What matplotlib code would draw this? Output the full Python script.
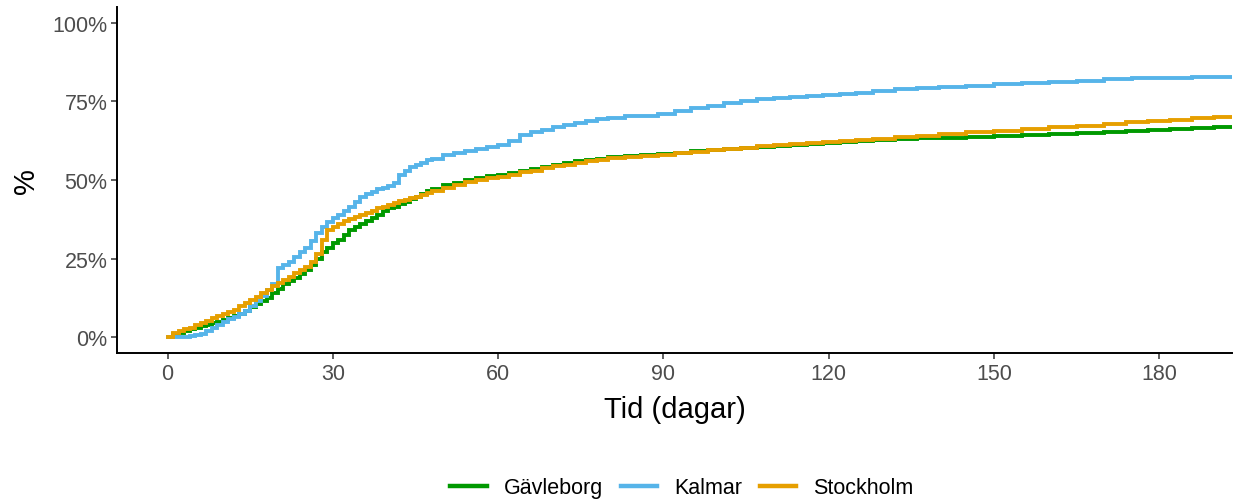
import matplotlib
matplotlib.use("Agg")
import matplotlib.pyplot as plt
from matplotlib.ticker import FuncFormatter

plt.rcParams['font.family'] = ['Liberation Sans', 'DejaVu Sans']

# ---- data (days, cumulative %) ----
gav_days = [0, 1, 2, 3, 4, 5, 6, 7, 8, 9, 10, 11, 12, 13, 14, 15, 16, 17, 18, 19, 20, 21, 22, 23,
            24, 25, 26, 27, 28, 29, 30, 31, 32, 33, 34, 35, 36, 37, 38, 39, 40, 41, 42, 43, 44,
            45, 46, 47, 48, 50, 52, 54, 56, 58, 60, 62, 64, 66, 68, 70, 72, 74, 76, 78, 80, 83,
            86, 89, 92, 95, 98, 101, 104, 107, 110, 113, 116, 119, 122, 125, 128, 132, 136, 140,
            145, 150, 155, 160, 165, 170, 174, 178, 182, 186, 190, 194]
gav_vals = [0, 1, 1.5, 2, 2.5, 3, 3.5, 4, 4.5, 5, 5.5, 6, 6.8, 7.5, 8.5, 9.5, 10.5, 11.5, 12.5,
            14, 15.5, 17, 18, 19, 20, 21.5, 23, 25, 27, 28.5, 30, 31, 32.5, 34, 35, 36, 37, 38,
            39, 40, 41, 41.5, 42.5, 43, 44, 44.5, 45.5, 46.5, 47, 48.3, 49.2, 50, 50.7, 51.2,
            51.6, 52.2, 52.8, 53.5, 54.2, 54.8, 55.3, 55.9, 56.4, 56.8, 57.2, 57.5, 57.8, 58.2,
            58.7, 59.1, 59.5, 59.8, 60.2, 60.5, 60.8, 61.1, 61.4, 61.7, 62.1, 62.5, 62.8, 63.1,
            63.3, 63.5, 63.8, 64.0, 64.3, 64.6, 64.9, 65.2, 65.5, 66, 66.3, 66.6, 66.8, 67]

kal_days = [0, 1, 2, 3, 4, 5, 6, 7, 8, 9, 10, 11, 12, 13, 14, 15, 16, 17, 18, 19, 20, 21, 22, 23,
            24, 25, 26, 27, 28, 29, 30, 31, 32, 33, 34, 35, 36, 37, 38, 39, 40, 41, 42, 43, 44,
            45, 46, 47, 48, 50, 52, 54, 56, 58, 60, 62, 64, 66, 68, 70, 72, 74, 76, 78, 80, 83,
            86, 89, 92, 95, 98, 101, 104, 107, 110, 113, 116, 119, 122, 125, 128, 132, 136, 140,
            145, 150, 155, 160, 165, 170, 175, 180, 186, 194]
kal_vals = [0, 0, 0, 0, 0.3, 0.6, 1, 2, 3, 4, 5, 5.7, 6.5, 7.5, 8.5, 10, 11.5, 13, 15, 17, 22,
            23, 24, 25.5, 27, 28.5, 30.5, 33, 35, 36.7, 38, 39, 40, 41.5, 43, 44.5, 45.5, 46.3,
            47, 47.6, 48.2, 49.2, 51.5, 53, 54, 54.8, 55.5, 56.2, 56.8, 57.8, 58.5, 59.2, 60,
            60.6, 61.2, 62.5, 64.2, 65.3, 66, 66.8, 67.5, 68, 68.6, 69.3, 69.8, 70.2, 70.5, 71,
            71.8, 72.8, 73.6, 74.5, 75.2, 75.8, 76.1, 76.4, 76.6, 76.9, 77.3, 77.8, 78.3, 78.8,
            79.1, 79.5, 80, 80.5, 80.8, 81, 81.4, 82, 82.3, 82.4, 82.6, 82.7]

sto_days = [0, 1, 2, 3, 4, 5, 6, 7, 8, 9, 10, 11, 12, 13, 14, 15, 16, 17, 18, 19, 20, 21, 22, 23,
            24, 25, 26, 27, 28, 29, 30, 31, 32, 33, 34, 35, 36, 37, 38, 39, 40, 41, 42, 43, 44,
            45, 46, 47, 48, 50, 52, 54, 56, 58, 60, 62, 64, 66, 68, 70, 72, 74, 76, 78, 80, 83,
            86, 89, 92, 95, 98, 101, 104, 107, 110, 113, 116, 119, 122, 125, 128, 132, 136, 140,
            145, 150, 155, 160, 165, 170, 174, 178, 182, 186, 190, 194]
sto_vals = [0, 1.5, 2, 2.5, 3, 3.8, 4.5, 5.3, 6, 6.8, 7.3, 8, 8.8, 9.8, 10.8, 11.8, 12.8, 14,
            15, 16.3, 17.3, 18.3, 19.3, 20.3, 21.3, 22.5, 24, 26.5, 31, 34, 35, 36, 37, 37.6,
            38.3, 39, 39.6, 40.3, 41, 41.5, 42, 42.6, 43.2, 43.7, 44.2, 44.7, 45.2, 45.8, 46.4,
            47.5, 48.5, 49.3, 50, 50.6, 51.1, 51.7, 52.4, 53.0, 53.7, 54.3, 54.9, 55.5, 56, 56.5,
            57, 57.4, 57.7, 58.1, 58.6, 59.0, 59.5, 59.9, 60.3, 60.7, 61.1, 61.4, 61.7, 62.0,
            62.4, 62.8, 63.1, 63.6, 64.1, 64.6, 65.2, 65.7, 66.2, 66.7, 67.2, 67.8, 68.3, 68.8,
            69.2, 69.6, 70.0, 70.3]

series_names = ["Gävleborg", "Kalmar", "Stockholm"]
series_days = [gav_days, kal_days, sto_days]
series_vals = [gav_vals, kal_vals, sto_vals]
colors = ["#009900", "#56B4E9", "#E69F00"]

x_ticks = [0, 30, 60, 90, 120, 150, 180]
y_ticks = [0, 25, 50, 75, 100]

fig = plt.figure(figsize=(12.34, 5.02), dpi=100)
ax = fig.add_axes([117/1234, 1 - 354/502, (1232 - 117)/1234, (354 - 8)/502])

for name, d, v, c in zip(series_names, series_days, series_vals, colors):
    ax.plot(d, [vv / 100 for vv in v], drawstyle='steps-post', color=c, lw=2.8,
            label=name, solid_joinstyle='miter')

ax.set_xlim(-9.2, 193.2)
ax.set_ylim(-0.05, 1.05)
ax.set_xticks(x_ticks)
ax.set_yticks([t / 100 for t in y_ticks])
ax.yaxis.set_major_formatter(FuncFormatter(lambda y, p: f"{y*100:.0f}%"))

for s in ['top', 'right']:
    ax.spines[s].set_visible(False)
for s in ['left', 'bottom']:
    ax.spines[s].set_linewidth(1.4)
    ax.spines[s].set_color('black')
ax.tick_params(axis='both', length=4, width=1.1, color='#333333',
               labelcolor='#4D4D4D', labelsize=15.5, pad=3)

ax.set_xlabel("Tid (dagar)", fontsize=21, labelpad=8, color='black')
ax.set_ylabel("%", fontsize=21, labelpad=9, color='black')

leg = fig.legend(loc='center', bbox_to_anchor=(682/1234, 1 - 489/502), ncol=3,
                 frameon=False, fontsize=15.5, handlelength=1.7, handletextpad=0.8,
                 columnspacing=0.8)
for line in leg.get_lines():
    line.set_linewidth(3.2)

fig.savefig("out.png", dpi=100)
